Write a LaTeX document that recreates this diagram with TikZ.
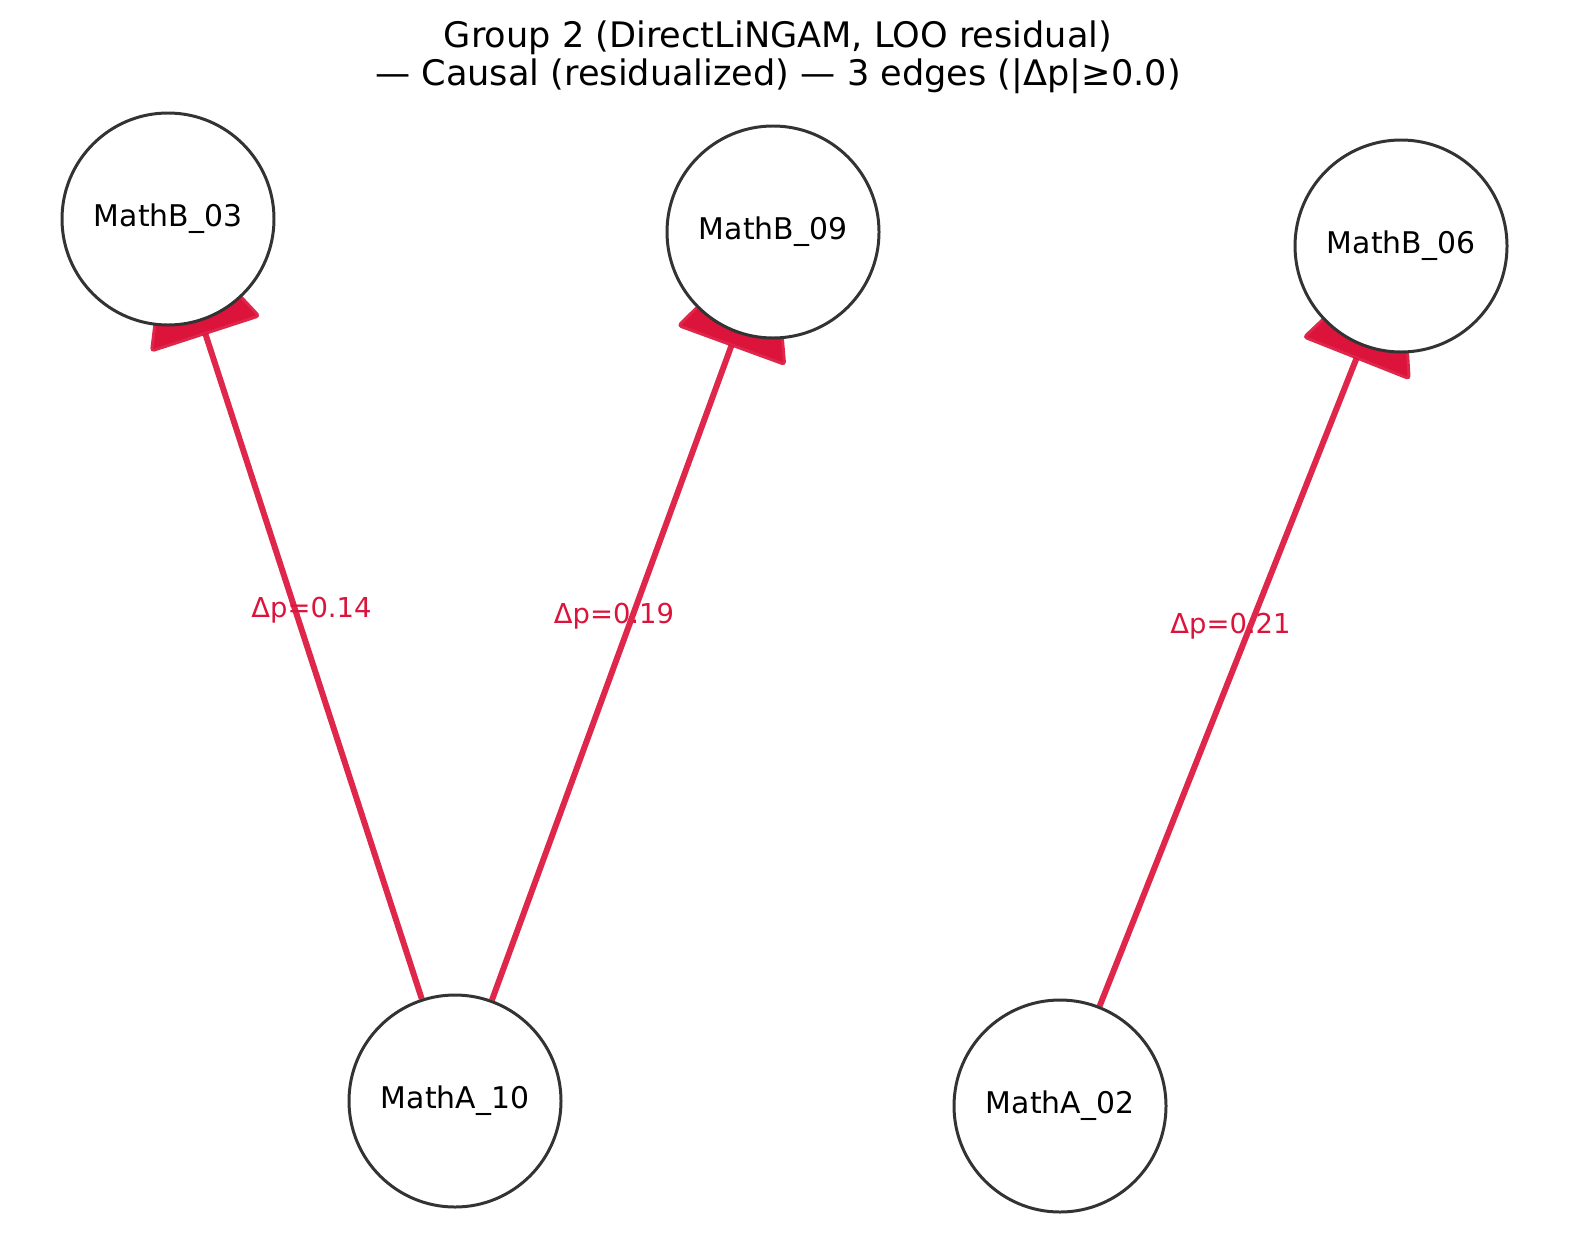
\documentclass[tikz,border=0pt]{standalone}
\usepackage{fontspec}
\setmainfont{DejaVu Sans}
\usepackage{tikz}
\usetikzlibrary{calc,arrows.meta}
\pgfdeclarelayer{background}
\pgfsetlayers{background,main}
\definecolor{edgered}{HTML}{DC143C}
\definecolor{ringgray}{HTML}{333333}

\begin{document}
\begin{tikzpicture}[
  var/.style={circle,draw=ringgray,fill=white,line width=0.85pt,minimum size=2.12cm,inner sep=0pt,font=\fontsize{8.5}{10}\selectfont},
  causal/.style={edgered,draw opacity=0.92,line width=1.7pt,-{Triangle[length=12.6mm,width=11.6mm,round]}},
  dplab/.style={text=edgered,font=\fontsize{7.8}{9}\selectfont,inner sep=0pt}]
\useasboundingbox (0,0) rectangle (15.89,12.49);
%%%% title
\node[align=center,font=\fontsize{10}{10.8}\selectfont] (title) at (7.78,11.92)
  {Group 2 (DirectLiNGAM, LOO residual)\\— Causal (residualized) — 3 edges (|Δp|≥0.0)};
%%%% variables
\node[var] (b03) at (1.68,10.30) {MathB\_03};
\node[var] (b09) at (7.73,10.17) {MathB\_09};
\node[var] (b06) at (14.01,10.03) {MathB\_06};
\node[var] (a10) at (4.55,1.48) {MathA\_10};
\node[var] (a02) at (10.60,1.43) {MathA\_02};
%%%% edges, behind the circles
\begin{pgfonlayer}{background}
\draw[causal] (a10) -- (b03.center);
\draw[causal] (a10) -- (b09.center);
\draw[causal] (a02) -- (b06.center);
\end{pgfonlayer}
%labels
\node[dplab] (l1) at ($(a10)!0.5!(b03)+(0,0.5)$) {Δp=0.14};
\node[dplab] (l2) at ($(a10)!0.5!(b09)+(0,0.5)$) {Δp=0.19};
\node[dplab] (l3) at ($(a02)!0.5!(b06)+(0,0.5)$) {Δp=0.21};
\end{tikzpicture}
\end{document}
